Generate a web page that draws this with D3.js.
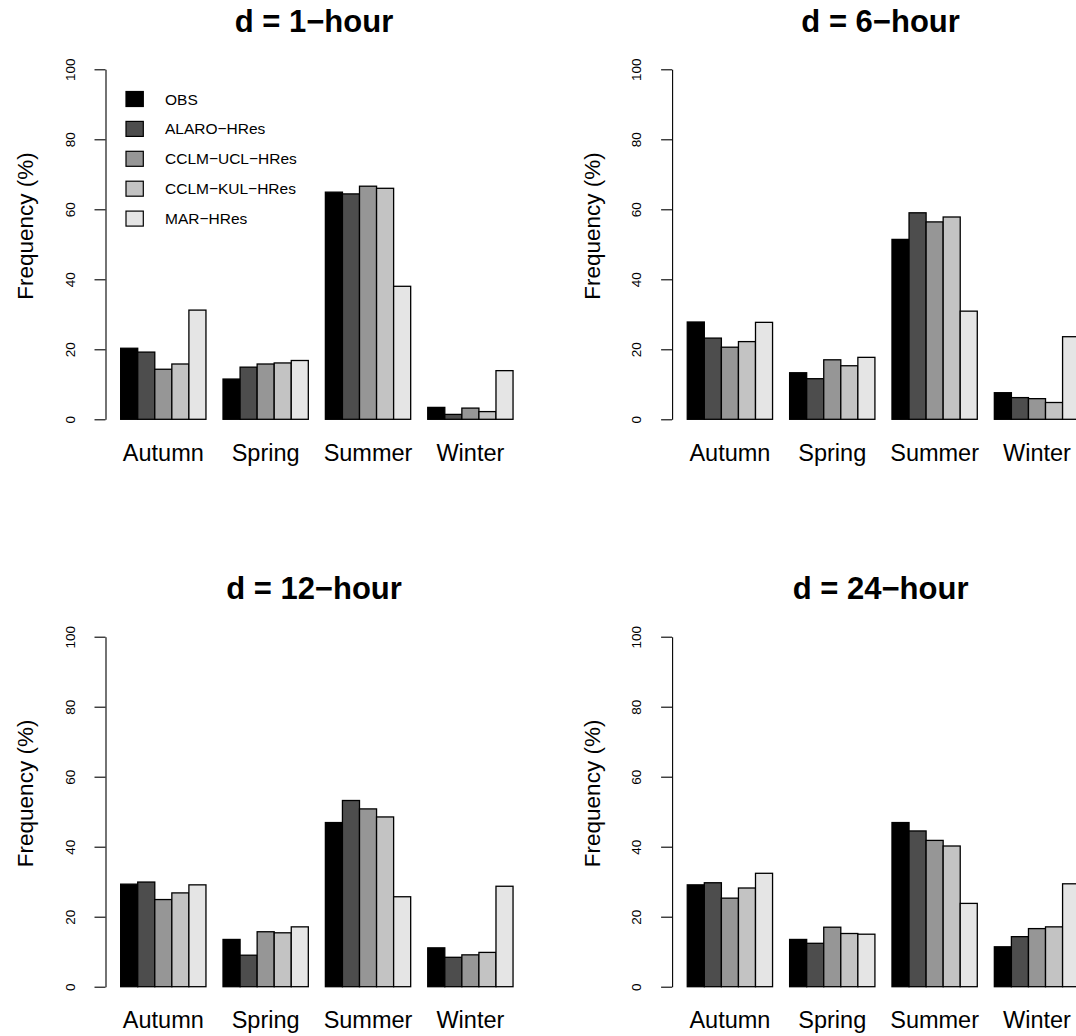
<!DOCTYPE html>
<html>
<head>
<meta charset="utf-8">
<script src="https://cdn.jsdelivr.net/npm/d3@7"></script>
<style>
  body { margin: 0; background: #fff; }
  svg text { font-family: "Liberation Sans", Arial, Helvetica, sans-serif; fill: #000; }
</style>
</head>
<body>
<div id="chart"></div>
<script>
// Data
var seasons = ["Autumn", "Spring", "Summer", "Winter"];
var models  = ["OBS", "ALARO\u2212HRes", "CCLM\u2212UCL\u2212HRes", "CCLM\u2212KUL\u2212HRes", "MAR\u2212HRes"];
var titles  = ["d = 1\u2212hour", "d = 6\u2212hour", "d = 12\u2212hour", "d = 24\u2212hour"];
var yTicks  = [0, 20, 40, 60, 80, 100];
var greys   = ["#000000", "#4d4d4d", "#969696", "#c3c3c3", "#e5e5e5"];

// values[season][model], one array per duration
var d1  = [[20.3, 19.2, 14.3, 15.8, 31.2],
           [11.5, 14.9, 15.8, 16.1, 16.8],
           [64.9, 64.4, 66.6, 66.0, 38.0],
           [ 3.4,  1.4,  3.2,  2.2, 13.9]];
var d6  = [[27.8, 23.2, 20.6, 22.2, 27.7],
           [13.3, 11.6, 17.0, 15.3, 17.7],
           [51.4, 59.0, 56.4, 57.8, 30.9],
           [ 7.6,  6.2,  5.9,  4.8, 23.6]];
var d12 = [[29.3, 29.9, 24.9, 26.8, 29.1],
           [13.5,  9.0, 15.7, 15.4, 17.1],
           [46.9, 53.2, 50.8, 48.5, 25.7],
           [11.1,  8.4,  9.1,  9.8, 28.7]];
var d24 = [[29.1, 29.7, 25.3, 28.2, 32.4],
           [13.5, 12.4, 17.0, 15.2, 15.0],
           [46.9, 44.5, 41.8, 40.2, 23.8],
           [11.4, 14.3, 16.6, 17.1, 29.4]];
var panels = [d1, d6, d12, d24];

// Layout (the figure is wider than the window, right column gets clipped)
var width = 1076, height = 1036;
var panelW = 566.6, panelH = 567.4;
var unit = 17.06;            // one bar width
var originX = 103.6;         // x of unit 0
var baseY = 419.3, topY = 69.3;

var svg = d3.select("#chart").append("svg")
    .attr("width", width)
    .attr("height", height);

var x0 = d3.scaleBand().domain(seasons).range([originX, originX + 24 * unit]);
var x1 = d3.scaleBand().domain(d3.range(models.length)).range([unit, 6 * unit]);
var y  = d3.scaleLinear().domain([0, 100]).range([baseY, topY]);

panels.forEach(function(vals, p) {
  var g = svg.append("g")
      .attr("transform", "translate(" + ((p % 2) * panelW) + "," + (Math.floor(p / 2) * panelH) + ")");

  // title
  g.append("text")
      .attr("x", 314)
      .attr("y", 31.7)
      .attr("text-anchor", "middle")
      .style("font-weight", "bold")
      .style("font-size", "31px")
      .text(titles[p]);

  // y label
  g.append("text")
      .attr("transform", "translate(33,226) rotate(-90)")
      .attr("text-anchor", "middle")
      .style("font-size", "22.5px")
      .text("Frequency (%)");

  // y axis
  var ax = g.append("g")
      .attr("transform", "translate(105.5,0)")
      .call(d3.axisLeft(y).tickValues(yTicks).tickSize(11).tickSizeOuter(0));
  ax.select(".domain").attr("stroke", "#000").attr("stroke-width", 1.1);
  ax.selectAll(".tick line").attr("stroke", "#000").attr("stroke-width", 1.1);
  ax.selectAll(".tick text")
      .attr("x", 0).attr("y", 0).attr("dy", "0.35em")
      .attr("text-anchor", "middle")
      .attr("transform", "translate(-35.5,0) rotate(-90)")
      .style("font-size", "13.5px")
      .attr("fill", "#000")
      .attr("font-family", null);

  // bars
  var grp = g.selectAll(".season")
      .data(vals)
      .enter().append("g")
      .attr("transform", function(d, i) { return "translate(" + x0(seasons[i]) + ",0)"; });
  grp.selectAll("rect")
      .data(function(d) { return d; })
      .enter().append("rect")
      .attr("x", function(d, i) { return x1(i); })
      .attr("y", function(d) { return y(d); })
      .attr("width", x1.bandwidth())
      .attr("height", function(d) { return baseY - y(d); })
      .attr("fill", function(d, i) { return greys[i]; })
      .attr("stroke", "#000")
      .attr("stroke-width", 1.3);

  // season labels
  g.selectAll(".lab")
      .data(seasons)
      .enter().append("text")
      .attr("x", function(d) { return x0(d) + unit + 2.5 * unit; })
      .attr("y", 461)
      .attr("text-anchor", "middle")
      .style("font-size", "23.5px")
      .text(function(d) { return d; });

  // legend only in the first panel
  if (p === 0) {
    var leg = g.selectAll(".leg")
        .data(models)
        .enter().append("g")
        .attr("transform", function(d, i) { return "translate(126," + (99 + i * 29.9) + ")"; });
    leg.append("rect")
        .attr("x", 0).attr("y", -7.5)
        .attr("width", 17.3).attr("height", 15)
        .attr("fill", function(d, i) { return greys[i]; })
        .attr("stroke", "#000")
        .attr("stroke-width", 1.2);
    leg.append("text")
        .attr("x", 39)
        .attr("dy", "0.36em")
        .style("font-size", "15.5px")
        .text(function(d) { return d; });
  }
});
</script>
</body>
</html>
